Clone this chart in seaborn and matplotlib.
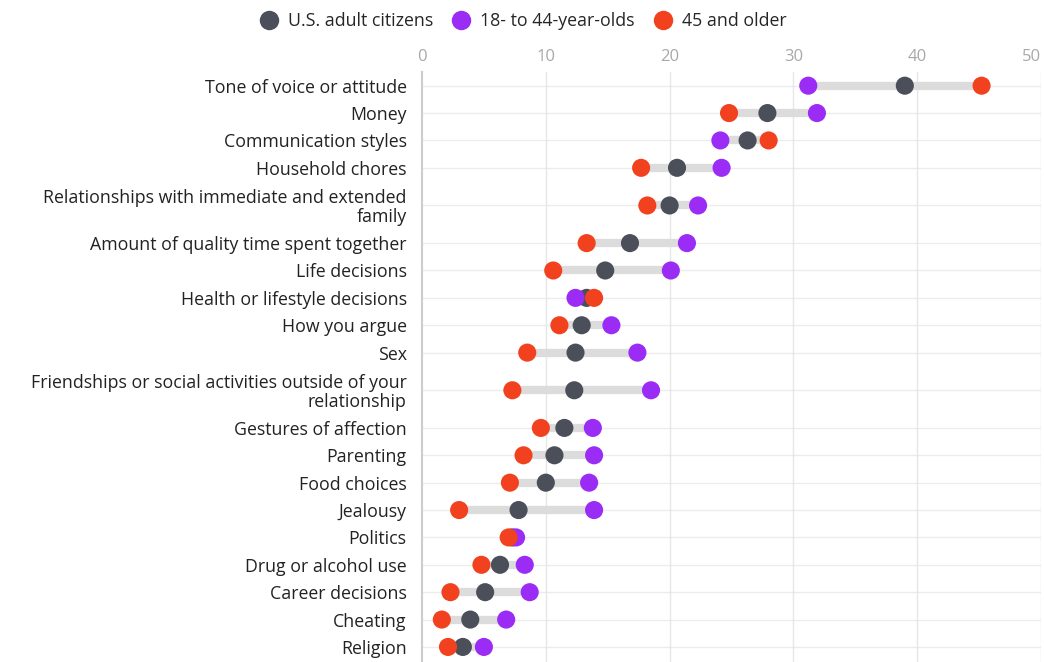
import numpy as np
import pandas as pd
import matplotlib.pyplot as plt
import seaborn as sns

# Data
topics = [
    "Tone of voice or attitude",
    "Money",
    "Communication styles",
    "Household chores",
    "Relationships with immediate and extended\nfamily",
    "Amount of quality time spent together",
    "Life decisions",
    "Health or lifestyle decisions",
    "How you argue",
    "Sex",
    "Friendships or social activities outside of your\nrelationship",
    "Gestures of affection",
    "Parenting",
    "Food choices",
    "Jealousy",
    "Politics",
    "Drug or alcohol use",
    "Career decisions",
    "Cheating",
    "Religion",
]
all_adults = [39.0, 27.9, 26.3, 20.6, 20.0, 16.8, 14.8, 13.3, 12.9, 12.4,
              12.3, 11.5, 10.7, 10.0, 7.8, 7.3, 6.3, 5.1, 3.9, 3.3]
young = [31.2, 31.9, 24.1, 24.2, 22.3, 21.4, 20.1, 12.4, 15.3, 17.4,
         18.5, 13.8, 13.9, 13.5, 13.9, 7.6, 8.3, 8.7, 6.8, 5.0]
older = [45.2, 24.8, 28.0, 17.7, 18.2, 13.3, 10.6, 13.9, 11.1, 8.5,
         7.3, 9.6, 8.2, 7.1, 3.0, 7.0, 4.8, 2.3, 1.6, 2.1]

series_names = ["U.S. adult citizens", "18- to 44-year-olds", "45 and older"]
colors = {"U.S. adult citizens": "#4b4f5a",
          "18- to 44-year-olds": "#9a2cf5",
          "45 and older": "#f2411f"}

# Row positions: two-line labels get a taller row
heights = [1.75 if "\n" in t else 1.0 for t in topics]
ypos = []
cur = 0.0
for i, h in enumerate(heights):
    if i > 0:
        cur += (heights[i - 1] + h) / 2
    ypos.append(cur)

wide = pd.DataFrame({"topic": topics, "y": ypos,
                     "U.S. adult citizens": all_adults,
                     "18- to 44-year-olds": young,
                     "45 and older": older})
# draw order: gray under purple under red
long = wide.melt(id_vars=["topic", "y"], value_vars=series_names,
                 var_name="group", value_name="pct")

sns.set_style("white")
plt.rcParams["font.family"] = ["Open Sans", "DejaVu Sans"]

fig = plt.figure(figsize=(10.44, 6.62), dpi=100)
ax = fig.add_axes([422 / 1044, 0.0, (1041 - 422) / 1044, 1 - 72 / 662])

# grid
for y in ypos:
    ax.axhline(y, color="#ececec", lw=1, zorder=0)
for x in range(10, 51, 10):
    ax.axvline(x, color="#e6e6e6", lw=1, zorder=0)

# connector bars
lo = wide[series_names].min(axis=1)
hi = wide[series_names].max(axis=1)
ax.hlines(wide["y"], lo, hi, color="#dcdcdc", lw=6, zorder=1)

sns.scatterplot(data=long, x="pct", y="y", hue="group", hue_order=series_names,
                palette=colors, s=170, linewidth=0, ax=ax, zorder=3, legend=False)

ax.set_xlim(0, 50)
ax.set_ylim(ypos[-1] + 0.55, ypos[0] - 0.5)
ax.xaxis.tick_top()
ax.set_xticks(range(0, 51, 10))
ax.tick_params(axis="x", length=0, labelsize=12, labelcolor="#a8a8a8", pad=5)
ax.get_xticklabels()[-1].set_horizontalalignment("right")
ax.set_yticks(ypos)
ax.set_yticklabels(topics, linespacing=1.05)
ax.tick_params(axis="y", length=0, labelsize=12.8, labelcolor="#222222", pad=11)
ax.set_xlabel("")
ax.set_ylabel("")
for side in ["top", "right", "bottom"]:
    ax.spines[side].set_visible(False)
ax.spines["left"].set_color("#cccccc")
ax.spines["left"].set_linewidth(1.5)

handles = [plt.Line2D([], [], marker="o", linestyle="", markersize=14,
                      markerfacecolor=colors[n], markeredgewidth=0, label=n)
           for n in series_names]
fig.legend(handles=handles, loc="upper center", bbox_to_anchor=(0.497, 1.0), ncol=3,
           frameon=False, fontsize=12.8, handletextpad=0.05, columnspacing=0.6,
           borderaxespad=0.3)

fig.savefig("out.png", dpi=100)
